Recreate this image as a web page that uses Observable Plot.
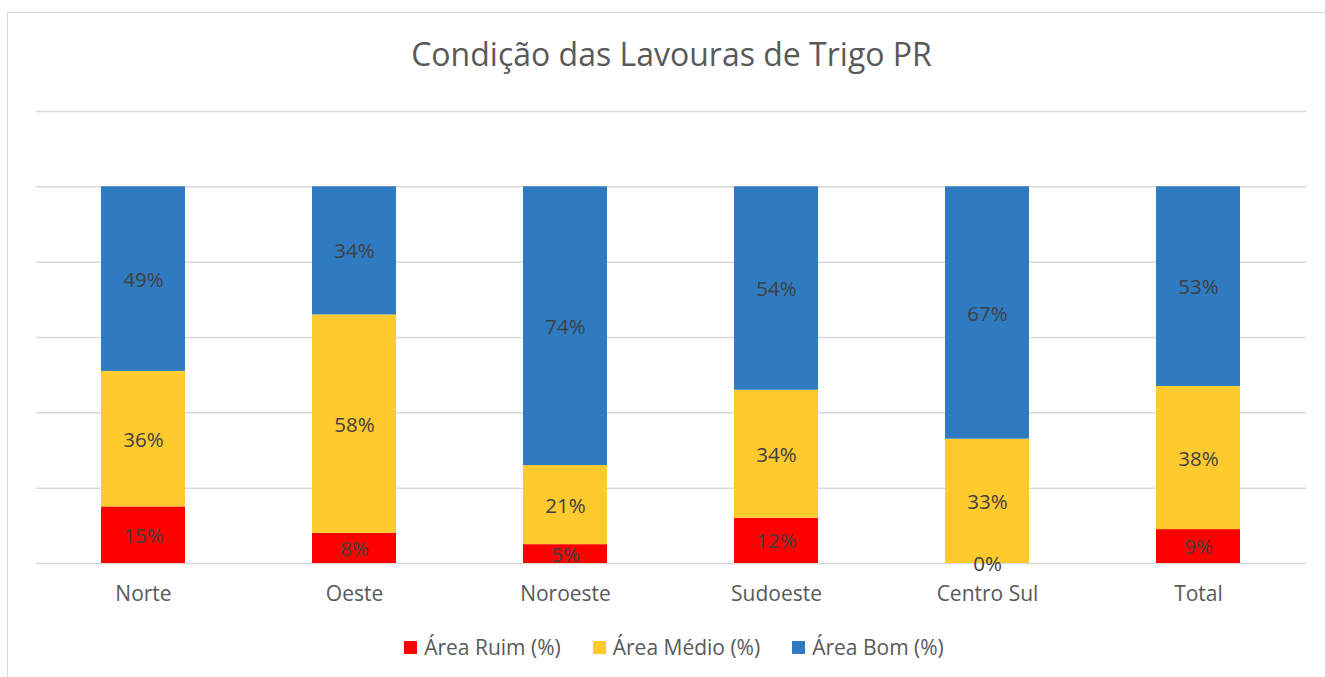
<!DOCTYPE html>
<html>
<head>
<meta charset="utf-8">
<script src="https://cdn.jsdelivr.net/npm/d3@7"></script>
<script src="https://cdn.jsdelivr.net/npm/@observablehq/plot@0.6"></script>
<style>
  html, body { margin: 0; padding: 0; background: #fff; }
  #wrap { position: relative; width: 1325px; height: 677px; overflow: hidden; font-family: "Open Sans", sans-serif; }
  #frame { position: absolute; left: 7px; top: 12px; width: 1330px; height: 700px; border: 1.5px solid #d9d9d9; box-sizing: border-box; }
  #title { position: absolute; left: 0; width: 1343px; top: 32px; text-align: center; font-size: 32px; color: #595959; }
  #chart { position: absolute; left: 0; top: 100px; }
  #legend { position: absolute; left: 0; width: 1348px; top: 633px; display: flex; justify-content: center; gap: 32px; font-size: 21px; color: #595959; }
  #legend .item { display: flex; align-items: center; gap: 7px; }
  #legend .sw { width: 13px; height: 13px; display: inline-block; }
</style>
</head>
<body>
<div id="wrap">
  <div id="frame"></div>
  <div id="title">Condição das Lavouras de Trigo PR</div>
  <div id="chart"></div>
  <div id="legend"></div>
</div>
<script>
const regions = ["Norte", "Oeste", "Noroeste", "Sudoeste", "Centro Sul", "Total"];
const series = ["Área Ruim (%)", "Área Médio (%)", "Área Bom (%)"];
const ruim  = [15, 8, 5, 12, 0, 9];
const medio = [36, 58, 21, 34, 33, 38];
const bom   = [49, 34, 74, 54, 67, 53];
const colors = ["#ff0000", "#ffca2e", "#2f7bc2"];
const gridTicks = [0, 20, 40, 60, 80, 100, 120];

const valuesBySeries = [ruim, medio, bom];
const data = [];
series.forEach((s, si) => {
  regions.forEach((r, ri) => {
    data.push({region: r, series: s, value: valuesBySeries[si][ri]});
  });
});

const font = "Open Sans, sans-serif";
const chart = Plot.plot({
  width: 1325,
  height: 520,
  marginLeft: 36,
  marginRight: 19,
  marginTop: 11,
  marginBottom: 57,
  style: {fontFamily: font, background: "transparent"},
  x: {domain: regions, paddingInner: 0.6, paddingOuter: 0.3, label: null},
  y: {domain: [0, 120], axis: null},
  color: {domain: series, range: colors},
  marks: [
    Plot.ruleY(gridTicks, {stroke: "#d9d9d9", strokeWidth: 1.5}),
    Plot.barY(data, {x: "region", y: "value", fill: "series", order: series}),
    Plot.text(data, Plot.stackY({x: "region", y: "value", z: "series", order: series,
      text: d => d.value + "%", fill: "#404040", fontSize: 20.5, dy: 1})),
    Plot.axisX({tickSize: 0, tickPadding: 23, fontSize: 21, color: "#595959", fill: "#595959"})
  ]
});
document.getElementById("chart").appendChild(chart);

const legend = document.getElementById("legend");
series.forEach((s, i) => {
  const item = document.createElement("div");
  item.className = "item";
  const sw = document.createElement("span");
  sw.className = "sw";
  sw.style.background = colors[i];
  const t = document.createElement("span");
  t.textContent = s;
  item.appendChild(sw);
  item.appendChild(t);
  legend.appendChild(item);
});
</script>
</body>
</html>
